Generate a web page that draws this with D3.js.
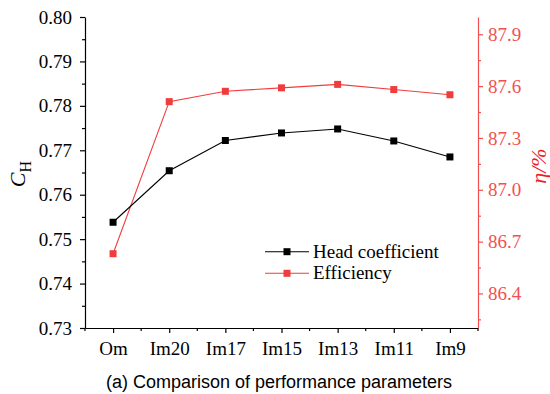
<!DOCTYPE html>
<html>
<head>
<meta charset="utf-8">
<script src="https://cdn.jsdelivr.net/npm/d3@7"></script>
<style>
  html, body { margin: 0; padding: 0; background: #fff; }
  svg { display: block; }
</style>
</head>
<body>
<svg id="chart" width="550" height="394"></svg>
<script>
// Impeller variants compared
const categories = ["Om", "Im20", "Im17", "Im15", "Im13", "Im11", "Im9"];
// Head coefficient C_H (left axis)
const headCoefficient = [0.7538, 0.7654, 0.7722, 0.7739, 0.7748, 0.7721, 0.7685];
// Efficiency η in % (right axis)
const efficiency = [86.63, 87.51, 87.57, 87.59, 87.61, 87.58, 87.55];
// Axis tick values
const leftTicks = [0.73, 0.74, 0.75, 0.76, 0.77, 0.78, 0.79, 0.80];
const rightTicks = [86.4, 86.7, 87.0, 87.3, 87.6, 87.9];
const seriesNames = ["Head coefficient", "Efficiency"];

const BLACK = "#000";
const RED = "#f03c3c";
const RED_AXIS = "#f25050";
const RED_TITLE = "#ee1c25";
const SERIF = "'Liberation Serif', 'Times New Roman', serif";
const SANS = "'Liberation Sans', Arial, sans-serif";

const svg = d3.select("#chart");
const plotLeft = 85, plotRight = 478, plotTop = 17, plotBottom = 328;

const x = d3.scalePoint().domain(categories).range([plotLeft, plotRight]).padding(0.5);
const yL = d3.scaleLinear().domain([0.73, 0.80]).range([plotBottom, plotTop]);
const yR = d3.scaleLinear().domain([86.2, 88.0]).range([plotBottom, plotTop]);

function styleAxis(g, color, size) {
  g.attr("font-family", null).attr("font-size", null);
  g.select(".domain").attr("stroke", color).attr("stroke-width", 1.2);
  g.selectAll(".tick line").attr("stroke", color).attr("stroke-width", 1.2);
  g.selectAll(".tick text").attr("fill", color)
    .style("font-family", SERIF).style("font-size", size + "px");
}

// Left axis with minor ticks
const leftMinor = d3.range(0.735, 0.80, 0.01);
svg.append("g").attr("transform", `translate(${plotLeft},0)`)
  .call(d3.axisLeft(yL).tickValues(leftMinor).tickSize(3).tickFormat(""))
  .call(g => { g.select(".domain").remove(); g.selectAll("line").attr("stroke", BLACK).attr("stroke-width", 1.2); });
svg.append("g").attr("transform", `translate(${plotLeft},0)`)
  .call(d3.axisLeft(yL).tickValues(leftTicks).tickSize(5).tickSizeOuter(0).tickPadding(8).tickFormat(d3.format(".2f")))
  .call(g => styleAxis(g, BLACK, 19));

// Bottom axis with minor ticks at half steps
const step = x.step();
const minorX = categories.map(c => x(c) - step / 2).concat([x(categories[categories.length - 1]) + step / 2]);
svg.append("g").selectAll("line").data(minorX).join("line")
  .attr("x1", d => d).attr("x2", d => d)
  .attr("y1", plotBottom).attr("y2", plotBottom + 3)
  .attr("stroke", BLACK).attr("stroke-width", 1.2);
svg.append("g").attr("transform", `translate(0,${plotBottom})`)
  .call(d3.axisBottom(x).tickSize(5).tickSizeOuter(0).tickPadding(9))
  .call(g => styleAxis(g, BLACK, 19));

// Right axis (efficiency) with minor ticks
const rightMinor = d3.range(86.25, 88.0, 0.3);
svg.append("g").attr("transform", `translate(${plotRight},0)`)
  .call(d3.axisRight(yR).tickValues(rightMinor).tickSize(3).tickFormat(""))
  .call(g => { g.select(".domain").remove(); g.selectAll("line").attr("stroke", RED_AXIS).attr("stroke-width", 1.2); });
svg.append("g").attr("transform", `translate(${plotRight},0)`)
  .call(d3.axisRight(yR).tickValues(rightTicks).tickSize(5).tickSizeOuter(0).tickPadding(5).tickFormat(d3.format(".1f")))
  .call(g => styleAxis(g, RED_AXIS, 19));

// Series lines and square markers
function drawSeries(values, yScale, color) {
  const pts = categories.map((c, i) => [x(c), yScale(values[i])]);
  svg.append("path").datum(pts)
    .attr("d", d3.line())
    .attr("fill", "none").attr("stroke", color).attr("stroke-width", 1.1);
  svg.append("g").selectAll("rect").data(pts).join("rect")
    .attr("x", d => d[0] - 3.5).attr("y", d => d[1] - 3.5)
    .attr("width", 7).attr("height", 7).attr("fill", color);
}
drawSeries(efficiency, yR, RED);
drawSeries(headCoefficient, yL, BLACK);

// Legend
const legend = svg.append("g");
[[BLACK, 251.7], [RED, 273.3]].forEach(([color, ly], i) => {
  legend.append("line").attr("x1", 265).attr("x2", 309).attr("y1", ly).attr("y2", ly)
    .attr("stroke", color).attr("stroke-width", 1.1);
  legend.append("rect").attr("x", 287 - 3.5).attr("y", ly - 3.5).attr("width", 7).attr("height", 7)
    .attr("fill", color);
  legend.append("text").attr("x", 313).attr("y", ly + 6)
    .style("font-family", SERIF).style("font-size", "19px").attr("fill", BLACK)
    .text(seriesNames[i]);
});

// Y axis titles
const cTitle = svg.append("text")
  .attr("transform", "translate(25,174) rotate(-90)")
  .attr("text-anchor", "middle")
  .style("font-family", SERIF).attr("fill", BLACK);
cTitle.append("tspan").style("font-style", "italic").style("font-size", "22px").text("C");
cTitle.append("tspan").style("font-size", "16px").attr("dy", 6).text("H");

svg.append("text")
  .attr("transform", "translate(546,166) rotate(-90)")
  .attr("text-anchor", "middle")
  .style("font-family", SERIF).style("font-style", "italic").style("font-size", "22px")
  .attr("fill", RED_TITLE)
  .text("η/%");

// Caption
svg.append("text")
  .attr("x", 279).attr("y", 388)
  .attr("text-anchor", "middle")
  .style("font-family", SANS).style("font-size", "18px").attr("fill", BLACK)
  .text("(a) Comparison of performance parameters");
</script>
</body>
</html>
